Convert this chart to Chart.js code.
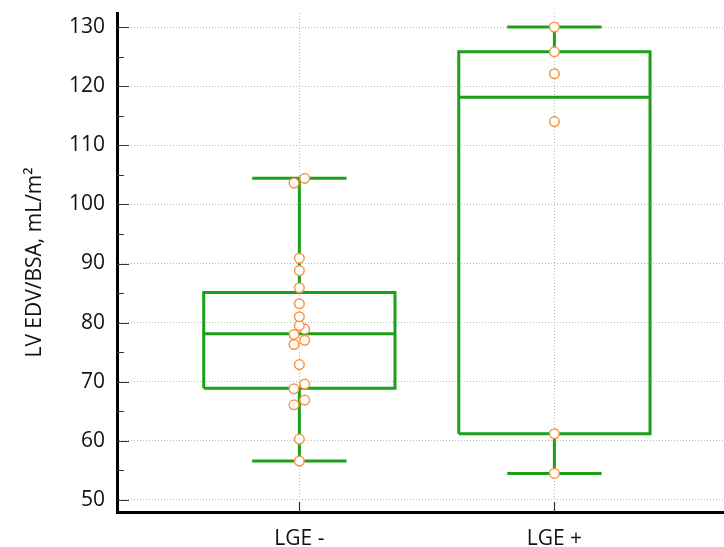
<!DOCTYPE html>
<html>
<head>
<meta charset="utf-8">
<script src="https://cdn.jsdelivr.net/npm/chart.js@4.4.0/dist/chart.umd.min.js"></script>
<style>
  html, body { margin: 0; padding: 0; background: #fff; overflow: hidden; }
  #wrap { width: 724px; height: 547px; position: relative; }
  #boxChart { display: block; }
</style>
</head>
<body>
<div id="wrap"><canvas id="boxChart"></canvas></div>
<script>
const categories = ["LGE -", "LGE +"];
const yTicks = [50, 60, 70, 80, 90, 100, 110, 120, 130];

// box statistics, one entry per category
const whiskerLow = [56.6, 54.5];
const q1 = [68.9, 61.2];
const median = [78.1, 118.1];
const q3 = [85.1, 125.8];
const whiskerHigh = [104.4, 130.0];

// individual observations
const pointsLgeNeg = [104.4, 103.6, 90.9, 88.8, 85.9, 83.2, 81.0, 79.5, 78.9, 78.0, 77.0, 76.3, 72.9, 69.6, 68.8, 66.9, 66.1, 60.3, 56.6];
const pointsLgePos = [130.0, 125.8, 122.1, 114.0, 61.2, 54.5];
const observations = [pointsLgeNeg, pointsLgePos];

const GREEN = "#1ca01c";
const ORANGE = "#f79646";
const BOX_HALF = 0.375;
const CAP_HALF = 0.185;
const JITTER = 0.021;
const FONT = "'Open Sans', 'Noto Sans', sans-serif";

// near-equal values are put side by side, lower one on the left
function spread(values, x) {
  const sorted = [...values].sort((a, b) => a - b);
  const out = [];
  let i = 0;
  while (i < sorted.length) {
    if (i + 1 < sorted.length && sorted[i + 1] - sorted[i] < 1.2) {
      out.push({ x: x - JITTER, y: sorted[i] }, { x: x + JITTER, y: sorted[i + 1] });
      i += 2;
    } else {
      out.push({ x, y: sorted[i] });
      i += 1;
    }
  }
  return out;
}

function lineSet(data) {
  return {
    type: "scatter",
    data,
    showLine: true,
    borderColor: GREEN,
    borderWidth: 3,
    borderCapStyle: "butt",
    borderJoinStyle: "miter",
    pointRadius: 0,
    pointHoverRadius: 0,
    fill: false,
    tension: 0,
    order: 1,
  };
}

const datasets = [];
categories.forEach((cat, i) => {
  const x = i + 1;
  datasets.push(lineSet([
    { x: x - BOX_HALF, y: q1[i] },
    { x: x + BOX_HALF, y: q1[i] },
    { x: x + BOX_HALF, y: q3[i] },
    { x: x - BOX_HALF, y: q3[i] },
    { x: x - BOX_HALF, y: q1[i] },
  ]));
  datasets.push(lineSet([{ x: x - BOX_HALF, y: median[i] }, { x: x + BOX_HALF, y: median[i] }]));
  datasets.push(lineSet([{ x, y: whiskerLow[i] }, { x, y: q1[i] }]));
  datasets.push(lineSet([{ x, y: q3[i] }, { x, y: whiskerHigh[i] }]));
  datasets.push(lineSet([{ x: x - CAP_HALF, y: whiskerLow[i] }, { x: x + CAP_HALF, y: whiskerLow[i] }]));
  datasets.push(lineSet([{ x: x - CAP_HALF, y: whiskerHigh[i] }, { x: x + CAP_HALF, y: whiskerHigh[i] }]));
  datasets.push({
    type: "scatter",
    label: cat,
    data: spread(observations[i], x),
    pointRadius: 4.8,
    pointBorderWidth: 1.5,
    pointBorderColor: ORANGE,
    pointBackgroundColor: "#ffffff",
    order: 0,
  });
});

// tick marks point into the plot, minor ones halfway between majors
const innerTicks = {
  id: "innerTicks",
  afterDraw(chart) {
    const { ctx, chartArea, scales } = chart;
    ctx.save();
    ctx.strokeStyle = "#333";
    ctx.lineWidth = 1.2;
    ctx.beginPath();
    yTicks.forEach((v, k) => {
      const y = Math.round(scales.y.getPixelForValue(v)) + 0.5;
      ctx.moveTo(chartArea.left, y);
      ctx.lineTo(chartArea.left + 12, y);
      if (k < yTicks.length - 1) {
        const ym = Math.round(scales.y.getPixelForValue((v + yTicks[k + 1]) / 2)) + 0.5;
        ctx.moveTo(chartArea.left, ym);
        ctx.lineTo(chartArea.left + 7, ym);
      }
    });
    categories.forEach((c, i) => {
      const x = Math.round(scales.x.getPixelForValue(i + 1)) + 0.5;
      ctx.moveTo(x, chartArea.bottom);
      ctx.lineTo(x, chartArea.bottom - 10);
    });
    ctx.stroke();
    ctx.restore();
  },
};

function noPadding(s) {
  s.paddingTop = 0;
  s.paddingBottom = 0;
  s.paddingLeft = 0;
  s.paddingRight = 0;
}

new Chart(document.getElementById("boxChart"), {
  type: "scatter",
  data: { datasets },
  options: {
    responsive: true,
    maintainAspectRatio: false,
    animation: false,
    events: [],
    layout: { autoPadding: false, padding: { top: 13, right: 0, left: 0, bottom: 0 } },
    plugins: {
      legend: { display: false },
      tooltip: { enabled: false },
    },
    scales: {
      x: {
        type: "linear",
        min: 0.285,
        max: 2.665,
        afterFit: (s) => { s.height = 35; noPadding(s); },
        afterBuildTicks: (s) => { s.ticks = categories.map((c, i) => ({ value: i + 1 })); },
        ticks: {
          callback: (v) => categories[v - 1] ?? "",
          color: "#111",
          font: { family: FONT, size: 21 },
          padding: 14,
          maxRotation: 0,
          autoSkip: false,
        },
        grid: { color: "#b8b8b8", lineWidth: 1, drawTicks: false },
        border: { color: "#000", width: 3, dash: [1, 2] },
      },
      y: {
        type: "linear",
        min: 47.97,
        max: 132.37,
        afterFit: (s) => { s.width = 117; noPadding(s); },
        afterBuildTicks: (s) => { s.ticks = yTicks.map((v) => ({ value: v })); },
        ticks: {
          color: "#111",
          font: { family: FONT, size: 21 },
          padding: 12,
        },
        grid: { color: "#b8b8b8", lineWidth: 1, drawTicks: false },
        border: { color: "#000", width: 3, dash: [1, 2] },
        title: {
          display: true,
          text: "LV EDV/BSA, mL/m²",
          color: "#111",
          font: { family: FONT, size: 21 },
          padding: { top: 22, bottom: 0 },
        },
      },
    },
  },
  plugins: [innerTicks],
});
</script>
</body>
</html>
